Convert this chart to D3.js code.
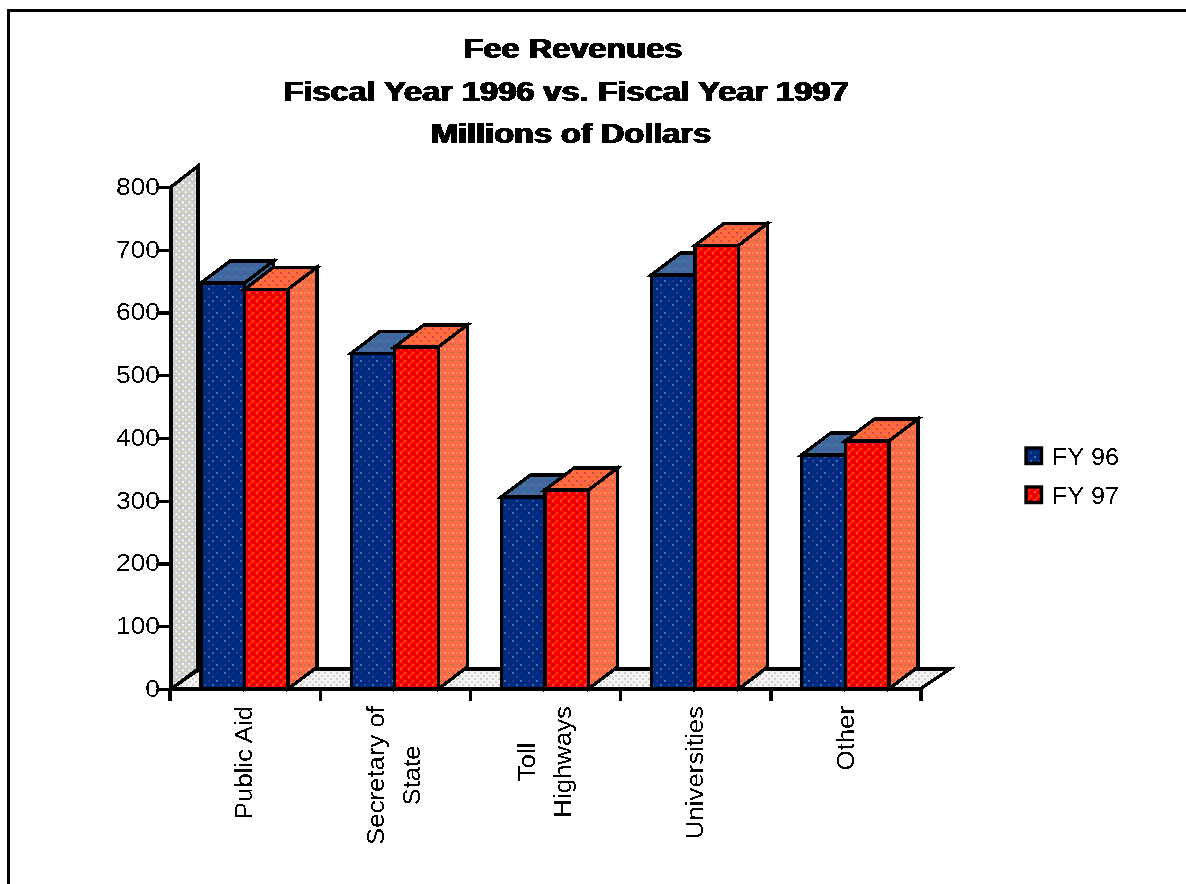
<!DOCTYPE html>
<html><head><meta charset="utf-8">
<script src="https://cdn.jsdelivr.net/npm/d3@7"></script>
<style>html,body{margin:0;padding:0;background:#fff;overflow:hidden}svg{display:block}
text{font-family:"Liberation Sans",Arial,sans-serif;fill:#000}</style></head>
<body><svg id="c" width="1186" height="884"></svg>
<script>
const categories=["Public Aid","Secretary of|State","Toll|Highways","Universities","Other"];
const seriesNames=["FY 96","FY 97"];
const fy96=[647,535,306,660,373];
const fy97=[637,545,317,707,395];
const yTicks=[0,100,200,300,400,500,600,700,800];
const titleLines=["Fee Revenues","Fiscal Year 1996 vs. Fiscal Year 1997","Millions of Dollars"];

const svg=d3.select("#c");
const defs=svg.append("defs");
function aliasFilter(id,dilate){
  const f=defs.append("filter").attr("id",id).attr("x","-5%").attr("y","-5%").attr("width","110%").attr("height","110%")
   .attr("color-interpolation-filters","sRGB");
  if(dilate) f.append("feMorphology").attr("operator","dilate").attr("radius",dilate);
  f.append("feComponentTransfer").append("feFuncA").attr("type","discrete").attr("tableValues","0 0 1 1");
}
aliasFilter("alias",null);
aliasFilter("aliasBold","1 0");

function pat(id,base,dots,size){
  const p=defs.append("pattern").attr("id",id).attr("patternUnits","userSpaceOnUse")
   .attr("width",size).attr("height",size);
  p.append("rect").attr("width",size).attr("height",size).attr("fill",base);
  dots.forEach(d=>p.append("rect").attr("x",d[0]).attr("y",d[1]).attr("width",2).attr("height",2).attr("fill",d[2]).attr("shape-rendering","crispEdges"));
}
pat("pBlue","#00297f",[[0,0,"#3f76a3"],[4,4,"#1f4f8f"],[8,8,"#3f76a3"],[8,0,"#00359c"],[0,8,"#3a2f96"],[4,12,"#3f76a3"],[12,4,"#003a75"],[12,12,"#1f4f8f"]],16);
pat("pRed","#ff0000",[[0,0,"#d40000"],[4,0,"#ff4a00"],[0,4,"#ff5040"],[4,4,"#d40000"],[2,2,"#ff3000"],[6,6,"#e00000"]],8);
pat("pSide","#ff6a4a",[[0,0,"#c87a40"],[4,4,"#ff9a5a"],[0,4,"#ff8a50"],[4,0,"#c86a40"]],8);
pat("pTopR","#ff6a3c",[[0,0,"#d04a40"],[4,4,"#d04a40"],[4,0,"#ff6a50"]],8);
pat("pTopB","#3f6aa0",[[0,0,"#5a5aa8"],[4,4,"#66709a"],[4,0,"#2f6a9a"]],8);
pat("pWall","#cccccc",[[0,0,"#ffffff"],[3,3,"#ffffcc"]],6.5);
pat("pFloor","#f4f4f4",[[0,0,"#cccccc"],[3,3,"#cccccc"]],6);

const x=d3.scaleBand().domain(categories).range([170,921]).padding(0);
const y=d3.scaleLinear().domain([0,800]).range([689,187]);
const s=d3.scaleBand().domain(seriesNames).range([31,118]).padding(0);
const dx=29, dy=-22, fx=30, sw=3.4;

function stretch(sel,k){
  sel.each(function(){
    const n=this, l=n.getComputedTextLength();
    d3.select(n).attr("textLength",l*k).attr("lengthAdjust","spacingAndGlyphs");
  });
}

// frame
svg.append("path").attr("d","M8.5 884V10.5H1186").attr("fill","none").attr("stroke","#000").attr("stroke-width",3.4).attr("shape-rendering","crispEdges");

// title
const titleX=[573,566,571];
svg.append("g").attr("filter","url(#aliasBold)").selectAll("text").data(titleLines).join("text")
 .attr("x",(d,i)=>titleX[i]).attr("y",(d,i)=>58+i*42.5).attr("text-anchor","middle")
 .attr("font-size",27).attr("font-weight","bold").text(d=>d).call(stretch,1.205);

const stroke=sel=>sel.attr("stroke","#000").attr("stroke-width",sw).attr("stroke-linejoin","miter");
const plot=svg.append("g").attr("shape-rendering","crispEdges");

// floor and wall
plot.append("path").attr("d",`M170 689L${170+fx} 669H950L${950-fx} 689Z`).attr("fill","url(#pFloor)").call(stroke);
plot.append("path").attr("d",`M171 ${y(800)}L198 ${y(800)-21}V669L171 689Z`).attr("fill","url(#pWall)").call(stroke);
plot.append("path").attr("d","M171 689L199 669").call(stroke);

// bars
const rows=categories.map((c,i)=>[{c,n:seriesNames[0],v:fy96[i]},{c,n:seriesNames[1],v:fy97[i]}]).flat();
const bars=plot.selectAll("g.bar").data(rows).join("g").attr("class","bar");
bars.each(function(d){
  const g=d3.select(this);
  const x0=x(d.c)+s(d.n), x1=x0+s.bandwidth(), t=y(d.v), b=y(0);
  const isB=d.n===seriesNames[0];
  g.append("path").attr("d",`M${x1} ${b}L${x1+dx} ${b+dy}V${t+dy}L${x1} ${t}Z`).attr("fill",isB?"#3f6aa0":"url(#pSide)").call(stroke);
  g.append("path").attr("d",`M${x0} ${t}L${x0+dx} ${t+dy}H${x1+dx}L${x1} ${t}Z`).attr("fill",isB?"url(#pTopB)":"url(#pTopR)").call(stroke);
  g.append("rect").attr("x",x0).attr("y",t).attr("width",x1-x0).attr("height",b-t).attr("fill",isB?"url(#pBlue)":"url(#pRed)").call(stroke);
});

// axes
const ax=svg.append("g").attr("shape-rendering","crispEdges");
const yAxis=d3.axisLeft(y).tickValues(yTicks).tickSize(12).tickPadding(0).tickSizeOuter(0);
const gy=ax.append("g").attr("transform","translate(171,0)").call(yAxis);
gy.select(".domain").attr("stroke","none");
gy.selectAll("line").attr("stroke","#000").attr("stroke-width",3.4);
gy.selectAll("text").attr("font-size",23).attr("font-family",'"Liberation Sans"').attr("fill","#000").attr("x",-11).attr("filter","url(#alias)").call(stretch,1.15);
const xTicks=categories.map(c=>x(c)).concat([921]);
ax.append("line").attr("x1",170).attr("x2",921).attr("y1",689).attr("y2",689).attr("stroke","#000").attr("stroke-width",3.4);
ax.selectAll("line.t").data(xTicks).join("line").attr("class","t")
 .attr("x1",d=>d).attr("x2",d=>d).attr("y1",689).attr("y2",701).attr("stroke","#000").attr("stroke-width",3.4);

// category labels
const labelX=[244,394,545,695,846];
const lab=svg.append("g").attr("filter","url(#alias)");
categories.forEach((c,i)=>{
  const lines=c.split("|");
  const g=lab.append("g");
  const ts=g.selectAll("text").data(lines).join("text").attr("font-size",23).attr("text-anchor","middle").text(d=>d);
  const maxL=d3.max(ts.nodes(),n=>n.getComputedTextLength())*1.12;
  ts.call(stretch,1.12);
  const cy=706+maxL/2;
  ts.attr("transform",(d,j)=>`translate(${labelX[i]+8+(j-(lines.length-1)/2)*36},${cy}) rotate(-90)`);
});

// legend
const leg=svg.append("g").selectAll("g").data(seriesNames).join("g").attr("transform",(d,i)=>`translate(1026,${448+i*39})`);
leg.append("rect").attr("width",15.5).attr("height",15.5).attr("fill",(d,i)=>i?"url(#pRed)":"url(#pBlue)").call(stroke);
leg.append("text").attr("x",26).attr("y",17).attr("font-size",23).attr("filter","url(#alias)").text(d=>d).call(stretch,1.1);
</script></body></html>
